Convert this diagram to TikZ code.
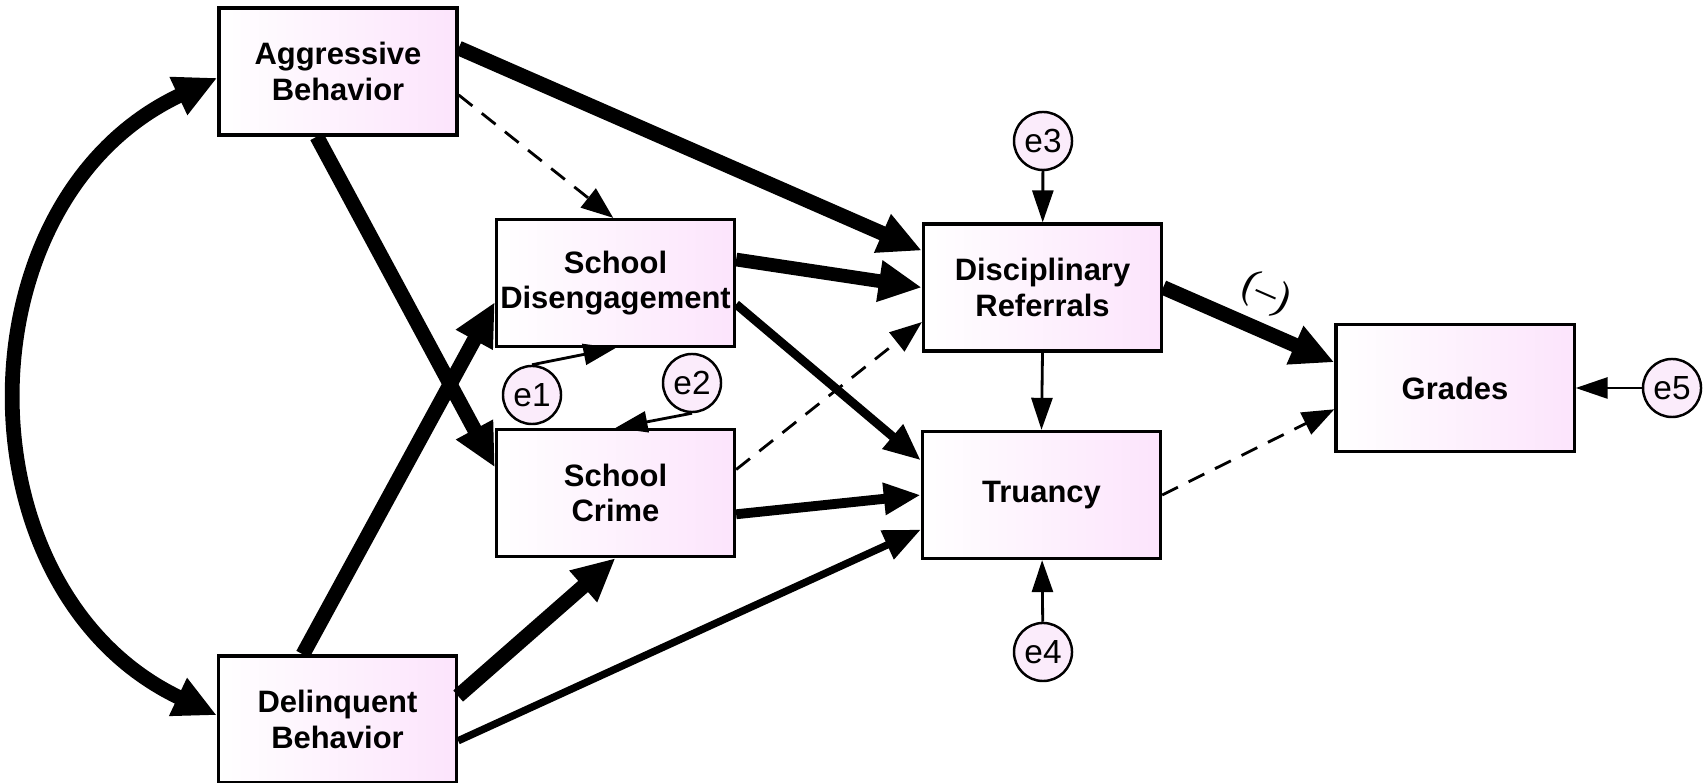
\documentclass[tikz,border=0pt]{standalone}
\usepackage{fontspec}
\setmainfont{Liberation Sans}
\newfontfamily\signfont{Liberation Serif}
\usepackage{tikz}
\usetikzlibrary{arrows.meta,positioning}
\definecolor{boxpink}{RGB}{252,228,252}
\definecolor{circpink}{RGB}{251,236,251}
\tikzset{
    varbox/.style={
                draw=black,
                line width=0.9pt,
                left color=white,
                right color=boxpink,
                minimum width=2.38cm,
                minimum height=1.27cm,
                inner sep=0pt,
                align=center,
                font=\fontsize{8.8}{10}\selectfont\bfseries
            },
        errcirc/.style={
                circle,
                draw=black,
                line width=0.7pt,
                fill=circpink,
                minimum size=0.58cm,
                inner sep=0pt,
                font=\fontsize{9.5}{10}\selectfont
            },
        heavypath/.style={
                line width=4.2pt,
                -{Triangle[length=4.3mm,width=3.9mm]}
            },
        midpath/.style={
                line width=2.5pt,
                -{Triangle[length=3.7mm,width=3mm]}
            },
        lightpath/.style={
                line width=0.8pt,
                -{Triangle[length=3.2mm,width=2.1mm]}
            },
        nspath/.style={
                line width=0.8pt,
                dash pattern=on 5pt off 3.4pt,
                -{Triangle[length=3.2mm,width=2.4mm]}
            },
        signlabel/.style={
                pos=0.52,
                above=2.5pt,
                sloped,
                inner sep=0pt,
                font=\signfont\fontsize{12}{12}\selectfont
            },
}

\begin{document}
\begin{tikzpicture}[x=0.01cm, y=-0.01cm]
\useasboundingbox (0,0) rectangle (1703,783);
% Predictors
\node[varbox] (agg) at (338,71.5) {Aggressive\\Behavior};
\node[varbox] (del) at (337.5,719.5) {Delinquent\\Behavior};
% Mediators and outcomes
\node[varbox] (dis) at (615.5,283) {School\\Disengagement};
\node[varbox] (crime) at (615.5,493) {School\\Crime};
\node[varbox] (ref) at (1042.5,287.5) {Disciplinary\\Referrals};
\node[varbox] (tru) at (1041.5,495) {Truancy};
\node[varbox] (grades) at (1455,388) {Grades};
% Error terms
\node[errcirc] (e1) at (532,395) {e1};
\node[errcirc] (e2) at (692,383) {e2};
\node[errcirc] (e3) at (1043,141) {e3};
\node[errcirc] (e4) at (1043,652) {e4};
\node[errcirc] (e5) at (1672,388) {e5};

% Paths
\draw[heavypath, {Triangle[length=4.3mm,width=3.9mm]}-{Triangle[length=4.3mm,width=3.9mm]}]
    (agg.183) .. controls (-44,200) and (-44,592) .. (del.178);
\draw[heavypath] (agg.11) -- (ref.163);
\draw[nspath] (agg.-11) -- (dis.92);
\draw[heavypath] (agg.-108) -- (crime.168);
\draw[heavypath] (del.118) -- (dis.189);
\draw[heavypath] (del.11) -- (crime.south);
\draw[midpath, line width=2.1pt] (del.-10) -- (tru.196);
\draw[heavypath, line width=3.9pt] (dis.11) -- (ref.west);
\draw[midpath] (dis.-10) -- (tru.164);
\draw[nspath] (crime.11) -- (ref.196);
\draw[midpath, line width=2.8pt] (crime.-10) -- (tru.west);
\draw[lightpath] (ref.south) -- (tru.north);
\draw[heavypath] (ref.east) -- node[signlabel] {(–)} (grades.168);
\draw[nspath] (tru.east) -- (grades.190);
% Residual paths
\draw[lightpath] (e1.north) -- (dis.south);
\draw[lightpath] (e2.south) -- (crime.north);
\draw[lightpath] (e3) -- (ref);
\draw[lightpath] (e4) -- (tru);
\draw[lightpath] (e5) -- (grades);
\end{tikzpicture}
\end{document}
